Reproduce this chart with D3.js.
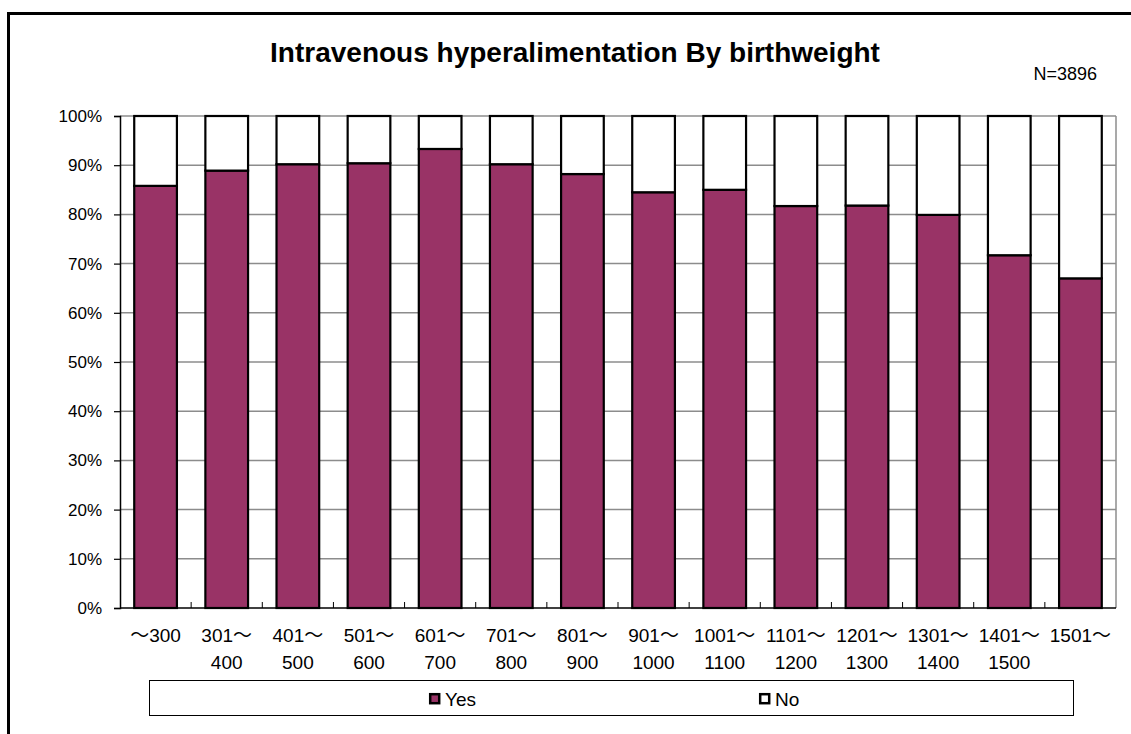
<!DOCTYPE html>
<html>
<head>
<meta charset="utf-8">
<script src="https://cdn.jsdelivr.net/npm/d3@7"></script>
<style>
  html, body { margin: 0; padding: 0; background: #fff; }
  svg { display: block; }
</style>
</head>
<body>
<svg id="chart" width="1131" height="734"></svg>
<script>
// Birthweight groups (g): first line / second line of each axis label
const categories = ["～300", "301～400", "401～500", "501～600", "601～700", "701～800", "801～900",
  "901～1000", "1001～1100", "1101～1200", "1201～1300", "1301～1400", "1401～1500", "1501～"];
const labelLine1 = ["～300", "301～", "401～", "501～", "601～", "701～", "801～",
  "901～", "1001～", "1101～", "1201～", "1301～", "1401～", "1501～"];
const labelLine2 = ["", "400", "500", "600", "700", "800", "900",
  "1000", "1100", "1200", "1300", "1400", "1500", ""];
// Share of infants receiving intravenous hyperalimentation (%)
const yesValues = [85.8, 88.9, 90.2, 90.4, 93.3, 90.2, 88.2, 84.5, 85.0, 81.7, 81.8, 79.9, 71.7, 67.0];
const noValues = yesValues.map(v => 100 - v);
const yTicks = [0, 10, 20, 30, 40, 50, 60, 70, 80, 90, 100];
const seriesNames = ["Yes", "No"];
const seriesColors = ["#993366", "#ffffff"];

const svg = d3.select("#chart");
const FONT = "'Liberation Sans', 'Noto Sans CJK JP', Arial, sans-serif";

// Outer frame
svg.append("rect")
  .attr("x", 8.5).attr("y", 13.5)
  .attr("width", 1200).attr("height", 800)
  .attr("fill", "none").attr("stroke", "#000").attr("stroke-width", 3);

// Title
svg.append("text")
  .attr("x", 575).attr("y", 62)
  .attr("text-anchor", "middle")
  .attr("font-family", FONT).attr("font-weight", "bold")
  .attr("font-size", 28)
  .text("Intravenous hyperalimentation By birthweight");

svg.append("text")
  .attr("x", 1097).attr("y", 80)
  .attr("text-anchor", "end")
  .attr("font-family", FONT).attr("font-size", 18)
  .text("N=3896");

const plot = { left: 120, top: 116, right: 1116, bottom: 608 };

const x = d3.scaleBand()
  .domain(categories)
  .range([plot.left, plot.right])
  .paddingInner(0.4).paddingOuter(0.2);

const y = d3.scaleLinear().domain([0, 100]).range([plot.bottom, plot.top]);

// Gridlines
svg.append("g")
  .selectAll("line")
  .data(yTicks.filter(t => t > 0))
  .join("line")
  .attr("x1", plot.left).attr("x2", plot.right)
  .attr("y1", d => y(d)).attr("y2", d => y(d))
  .attr("stroke", "#8c8c8c").attr("stroke-width", 1.5);

// Right border of plot area
svg.append("line")
  .attr("x1", plot.right).attr("x2", plot.right)
  .attr("y1", plot.top).attr("y2", plot.bottom)
  .attr("stroke", "#8c8c8c").attr("stroke-width", 1.5);

// Stacked bars
const stackData = categories.map((c, i) => ({ cat: c, Yes: yesValues[i], No: noValues[i] }));
const stacked = d3.stack().keys(seriesNames)(stackData);

svg.append("g")
  .selectAll("g")
  .data(stacked)
  .join("g")
  .attr("fill", (d, i) => seriesColors[i])
  .selectAll("rect")
  .data(d => d)
  .join("rect")
  .attr("x", d => x(d.data.cat))
  .attr("width", x.bandwidth())
  .attr("y", d => y(d[1]))
  .attr("height", d => y(d[0]) - y(d[1]))
  .attr("stroke", "#000").attr("stroke-width", 2.2);

// Y axis
const yAxis = d3.axisLeft(y).tickValues(yTicks).tickFormat(d => d + "%").tickSize(6).tickPadding(12);
const yg = svg.append("g").attr("transform", `translate(${plot.left},0)`).call(yAxis);
yg.select(".domain").attr("stroke", "#000").attr("stroke-width", 1.5);
yg.selectAll(".tick line").attr("stroke", "#000").attr("stroke-width", 1.2);
yg.selectAll("text").attr("font-family", FONT).attr("font-size", 17).attr("fill", "#000");

// X axis baseline with inner boundary ticks
svg.append("line")
  .attr("x1", plot.left).attr("x2", plot.right)
  .attr("y1", plot.bottom).attr("y2", plot.bottom)
  .attr("stroke", "#000").attr("stroke-width", 1.5);
const step = x.step();
svg.append("g")
  .selectAll("line")
  .data(d3.range(1, categories.length))
  .join("line")
  .attr("x1", i => plot.left + i * step).attr("x2", i => plot.left + i * step)
  .attr("y1", plot.bottom).attr("y2", plot.bottom - 6)
  .attr("stroke", "#000").attr("stroke-width", 1);

// Category labels
const xl = svg.append("g").attr("font-family", FONT).attr("font-size", 19).attr("text-anchor", "middle");
categories.forEach((c, i) => {
  const cx = x(c) + x.bandwidth() / 2;
  xl.append("text").attr("x", cx).attr("y", 642).text(labelLine1[i]);
  if (labelLine2[i]) xl.append("text").attr("x", cx).attr("y", 669).text(labelLine2[i]);
});

// Legend
svg.append("rect")
  .attr("x", 149.5).attr("y", 680.5).attr("width", 924).attr("height", 35)
  .attr("fill", "#fff").attr("stroke", "#000").attr("stroke-width", 1);
const legendX = [429, 759];
seriesNames.forEach((name, i) => {
  const g = svg.append("g").attr("transform", `translate(${legendX[i]},693)`);
  g.append("rect").attr("x", 1.2).attr("y", 1.2).attr("width", 9).attr("height", 9)
    .attr("fill", seriesColors[i]).attr("stroke", "#000").attr("stroke-width", 2.5);
  g.append("text").attr("x", 16).attr("y", 13)
    .attr("font-family", FONT).attr("font-size", 19).text(name);
});
</script>
</body>
</html>
